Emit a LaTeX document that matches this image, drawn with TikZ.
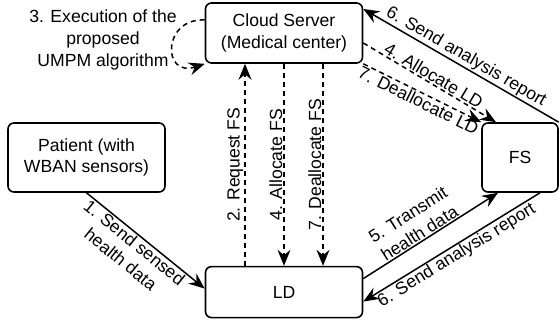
\documentclass[tikz,border=0pt]{standalone}
\usepackage{fontspec}
\setmainfont{Liberation Sans}
\usepackage{tikz}
\usetikzlibrary{arrows.meta, positioning, calc}
\newcommand{\diagfont}{\fontsize{17.6}{21.8}\selectfont}

\begin{document}
\begin{tikzpicture}[
    x=1pt, y=1pt,
    font=\diagfont,
    party/.style={draw, line width=1.6pt, rounded corners=6pt, align=center,
                  inner sep=0pt},
    arr/.style={-{Stealth[length=16pt, width=13pt, inset=5.5pt]}, line width=1.5pt},
    dsh/.style={arr, dash pattern=on 5pt off 4pt},
    lbl/.style={align=center, inner sep=1pt},
    vlbl/.style={rotate=90, anchor=south, inner sep=1pt}
  ]
    \useasboundingbox (0,0) rectangle (559,324);

    \node[party, minimum width=157pt, minimum height=60pt] (cloud) at (284,291)
      {Cloud Server\\(Medical center)};
    \node[party, minimum width=157pt, minimum height=51pt,
          below=202pt of cloud] (ld) {LD};
    \node[party, minimum width=157pt, minimum height=69pt] (patient)
      at (86.5,166.5) {Patient (with\\WBAN sensors)};
    \node[party, minimum width=76pt, minimum height=69pt] (fs)
      at (520,166.5) {FS};

    % patient to LD
    \draw[arr] (patient.south) -- node[lbl, sloped, below, pos=0.45]
      {1. Send sensed\\health data} ($(ld.west)+(0,3.5)$);

    % LD and cloud server
    \draw[dsh] ($(ld.north)+(-39,0)$) -- node[vlbl] {2. Request FS}
      ($(cloud.south)+(-39,0)$);
    \draw[dsh] (cloud.south) -- node[vlbl] {4. Allocate FS} (ld.north);
    \draw[dsh] ($(cloud.south)+(39,0)$) -- node[vlbl] {7. Deallocate FS}
      ($(ld.north)+(39,0)$);

    % self loop of the server
    \draw[dsh] ($(cloud.west)+(0,13)$) .. controls (162,306) and (162,246)
      .. (cloud.south west);
    \node[align=center] (umpm) at (103,284)
      {3. Execution of the\\proposed\\UMPM algorithm};

    % cloud server and FS
    \draw[dsh] ($(cloud.east)+(0,-10)$) -- node[lbl, sloped, above]
      {4. Allocate LD} ($(fs.north)+(-24,0)$);
    \draw[dsh] (cloud.south east) -- node[lbl, sloped, below]
      {7. Deallocate LD} (fs.north west);
    \draw[arr] (fs.north east) -- node[lbl, sloped, above]
      {6. Send analysis report} ($(cloud.east)+(0,24)$);

    % LD and FS
    \draw[arr] ($(ld.east)+(0,13.5)$) -- node[lbl, sloped, above, pos=0.45]
      {5. Transmit\\health data} ($(fs.south)+(-22,0)$);
    \draw[arr] ($(fs.south)+(20,0)$) -- node[lbl, sloped, below]
      {6. Send analysis report} ($(ld.east)+(0,-9.5)$);
  \end{tikzpicture}
\end{document}
